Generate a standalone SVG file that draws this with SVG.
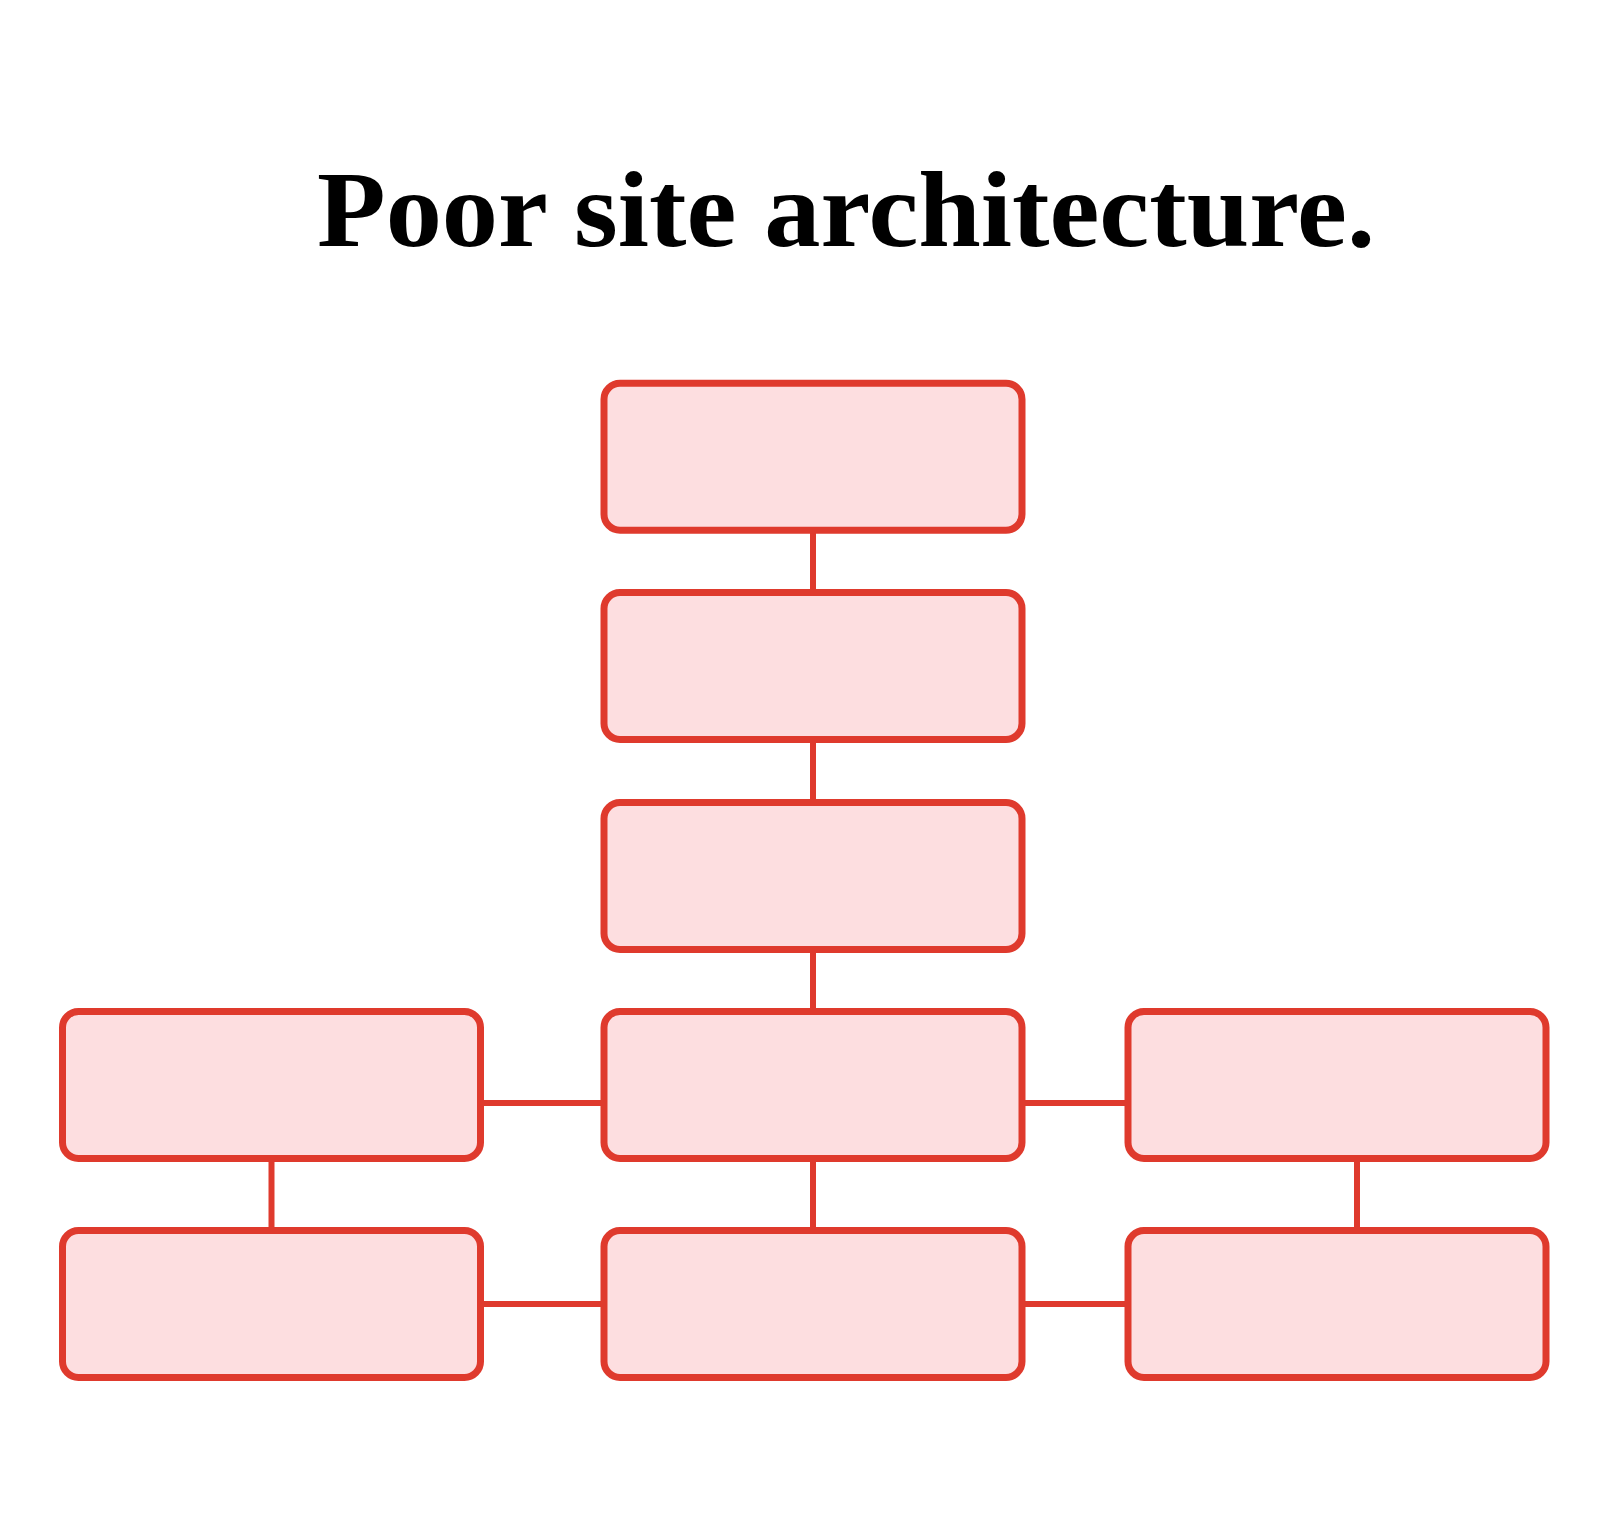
<svg xmlns="http://www.w3.org/2000/svg" width="1600" height="1522" viewBox="0 0 1600 1522">
  <style>
    .node { fill: #FDDEE0; stroke: #DF3A2D; stroke-width: 7; }
    .conn { stroke: #DF3A2D; stroke-width: 6; fill: none; }
    .title { font-family: "Liberation Serif", "DejaVu Serif", serif; font-weight: bold; font-size: 108px; fill: #000000; }
  </style>
  <rect x="0" y="0" width="1600" height="1522" fill="#FFFFFF"/>
  <text class="title" x="317" y="246" textLength="1058" lengthAdjust="spacingAndGlyphs">Poor site architecture.</text>
  <g id="connectors">
    <line class="conn" x1="813" y1="530" x2="813" y2="593"/>
    <line class="conn" x1="813" y1="739" x2="813" y2="803"/>
    <line class="conn" x1="813" y1="949" x2="813" y2="1012"/>
    <line class="conn" x1="480" y1="1103" x2="604" y2="1103"/>
    <line class="conn" x1="1022" y1="1103" x2="1128" y2="1103"/>
    <line class="conn" x1="271.5" y1="1158" x2="271.5" y2="1231"/>
    <line class="conn" x1="813" y1="1158" x2="813" y2="1231"/>
    <line class="conn" x1="1357" y1="1158" x2="1357" y2="1231"/>
    <line class="conn" x1="480" y1="1304" x2="604" y2="1304"/>
    <line class="conn" x1="1022" y1="1304" x2="1128" y2="1304"/>
  </g>
  <g id="node-1"><rect class="node" x="604" y="383.25" width="418" height="147" rx="16"/></g>
  <g id="node-2"><rect class="node" x="604" y="592.5" width="418" height="147" rx="16"/></g>
  <g id="node-3"><rect class="node" x="604" y="802.5" width="418" height="147" rx="16"/></g>
  <g id="node-4-left"><rect class="node" x="62.5" y="1011.5" width="418" height="147" rx="16"/></g>
  <g id="node-4-center"><rect class="node" x="604" y="1011.5" width="418" height="147" rx="16"/></g>
  <g id="node-4-right"><rect class="node" x="1128" y="1011.5" width="418" height="147" rx="16"/></g>
  <g id="node-5-left"><rect class="node" x="62.5" y="1230.5" width="418" height="147" rx="16"/></g>
  <g id="node-5-center"><rect class="node" x="604" y="1230.5" width="418" height="147" rx="16"/></g>
  <g id="node-5-right"><rect class="node" x="1128" y="1230.5" width="418" height="147" rx="16"/></g>
</svg>
